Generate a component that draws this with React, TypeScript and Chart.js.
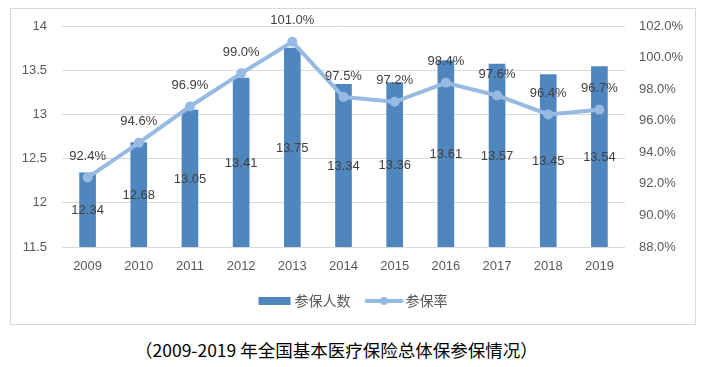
import React, { useEffect, useRef } from "react";
import { Chart, registerables } from "chart.js";

Chart.register(...registerables);

const years = ["2009", "2010", "2011", "2012", "2013", "2014", "2015", "2016", "2017", "2018", "2019"];
const insured = [12.34, 12.68, 13.05, 13.41, 13.75, 13.34, 13.36, 13.61, 13.57, 13.45, 13.54];
const rate = [92.4, 94.6, 96.9, 99.0, 101.0, 97.5, 97.2, 98.4, 97.6, 96.4, 96.7];
const leftAxis = { min: 11.5, max: 14, step: 0.5 };
const rightAxis = { min: 88, max: 102, step: 2 };
const barName = "参保人数";
const lineName = "参保率";
const caption = "（2009-2019 年全国基本医疗保险总体保参保情况）";

const BAR_COLOR = "#4F86BE";
const LINE_COLOR = "#97BAE2";
const TICK_COLOR = "#595959";
const LABEL_COLOR = "#404040";
const FONT = "'Liberation Sans', Arial, sans-serif";

const labelPlugin = {
  id: "valueLabels",
  afterDatasetsDraw(chart: any) {
    const ctx = chart.ctx;
    ctx.save();
    ctx.font = `13px ${FONT}`;
    ctx.fillStyle = LABEL_COLOR;
    ctx.textAlign = "center";
    ctx.textBaseline = "middle";
    chart.data.datasets.forEach((ds: any, i: number) => {
      const meta = chart.getDatasetMeta(i);
      const isBar = meta.type === "bar";
      meta.data.forEach((el: any, j: number) => {
        const v = ds.data[j];
        if (isBar) {
          const base = chart.scales.y.getPixelForValue(leftAxis.min);
          const top = chart.scales.y.getPixelForValue(v);
          ctx.fillText(v.toFixed(2), el.x, (top + base) / 2 + 1);
        } else {
          ctx.fillText(v.toFixed(1) + "%", el.x, el.y - 21);
        }
      });
    });
    ctx.restore();
  },
};

const legendPlugin = {
  id: "customLegend",
  afterDraw(chart: any) {
    const ctx = chart.ctx;
    ctx.save();
    ctx.font = `14px 'Noto Sans CJK SC', sans-serif`;
    const w1 = ctx.measureText(barName).width;
    const w2 = ctx.measureText(lineName).width;
    const sw = 32;
    const gap = 4;
    const between = 16;
    const total = sw + gap + w1 + between + 35 + gap + w2;
    let x = chart.width / 2 - total / 2;
    const y = chart.height - 23;
    ctx.fillStyle = BAR_COLOR;
    ctx.fillRect(x, y - 4, sw, 8);
    x += sw + gap;
    ctx.fillStyle = TICK_COLOR;
    ctx.textBaseline = "middle";
    ctx.textAlign = "left";
    ctx.fillText(barName, x, y);
    x += w1 + between;
    ctx.strokeStyle = LINE_COLOR;
    ctx.lineWidth = 4;
    ctx.lineCap = "round";
    ctx.beginPath();
    ctx.moveTo(x, y);
    ctx.lineTo(x + 35, y);
    ctx.stroke();
    ctx.fillStyle = LINE_COLOR;
    ctx.beginPath();
    ctx.arc(x + 17.5, y, 4, 0, Math.PI * 2);
    ctx.fill();
    x += 35 + gap;
    ctx.fillStyle = TICK_COLOR;
    ctx.fillText(lineName, x, y);
    ctx.restore();
  },
};

export default function App() {
  const ref = useRef<HTMLCanvasElement | null>(null);
  useEffect(() => {
    if (!ref.current) return;
    const fitV = (w: number) => (s: any) => {
      s.width = w;
      s.paddingTop = 0;
      s.paddingBottom = 0;
    };
    const chart = new Chart(ref.current, {
      type: "bar",
      data: {
        labels: years,
        datasets: [
          {
            type: "line",
            label: lineName,
            data: rate,
            yAxisID: "y2",
            borderColor: LINE_COLOR,
            backgroundColor: LINE_COLOR,
            borderWidth: 4,
            pointRadius: 5,
            pointBackgroundColor: LINE_COLOR,
            pointBorderColor: LINE_COLOR,
            pointBorderWidth: 0,
            tension: 0,
            order: 0,
          } as any,
          {
            type: "bar",
            label: barName,
            data: insured,
            yAxisID: "y",
            backgroundColor: BAR_COLOR,
            barThickness: 16,
            order: 1,
          } as any,
        ],
      },
      options: {
        animation: false,
        responsive: false,
        devicePixelRatio: 1,
        layout: { padding: { top: 17, left: 0, right: 0, bottom: 0 } },
        plugins: { legend: { display: false }, tooltip: { enabled: false } },
        scales: {
          x: {
            grid: { display: false, drawTicks: false },
            border: { display: false },
            ticks: { color: TICK_COLOR, font: { family: FONT, size: 13 }, padding: 12 },
            afterFit: (s: any) => {
              s.height = 77;
              s.paddingLeft = 0;
              s.paddingRight = 0;
            },
          },
          y: {
            position: "left",
            min: leftAxis.min,
            max: leftAxis.max,
            grid: { color: "#D9D9D9", drawTicks: false },
            border: { display: false },
            ticks: {
              stepSize: leftAxis.step,
              color: TICK_COLOR,
              font: { family: FONT, size: 13 },
              padding: 15,
              callback: (v: any) => String(v),
            },
            afterFit: fitV(51),
          },
          y2: {
            position: "right",
            min: rightAxis.min,
            max: rightAxis.max,
            grid: { display: false, drawTicks: false },
            border: { display: false },
            ticks: {
              stepSize: rightAxis.step,
              color: TICK_COLOR,
              font: { family: FONT, size: 13 },
              padding: 14,
              callback: (v: any) => Number(v).toFixed(1) + "%",
            },
            afterFit: fitV(70),
          },
        },
      },
      plugins: [labelPlugin, legendPlugin],
    });
    return () => chart.destroy();
  }, []);

  return (
    <div style={{ position: "absolute", left: 0, top: 0, width: 723, height: 367, background: "#fff" }}>
      <div
        style={{
          position: "absolute",
          left: 10,
          top: 8,
          width: 684,
          height: 315,
          border: "1px solid #D9D9D9",
        }}
      >
        <canvas ref={ref} width={684} height={315} style={{ display: "block" }} />
      </div>
      <div
        style={{
          position: "absolute",
          left: 135,
          top: 339,
          fontFamily: "'Noto Sans CJK SC', sans-serif",
          fontSize: 17.5,
          lineHeight: "22px",
          color: "#000",
          whiteSpace: "nowrap",
        }}
      >
        {caption}
      </div>
    </div>
  );
}
